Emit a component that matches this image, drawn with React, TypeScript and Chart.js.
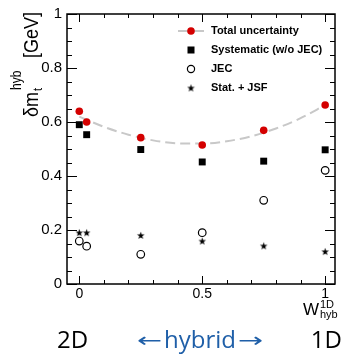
import React, { useEffect, useRef } from "react";
import { Chart, registerables } from "chart.js";

Chart.register(...registerables);

const W_HYB = [0, 0.03, 0.25, 0.5, 0.75, 1];
const TOTAL = [0.64, 0.6, 0.542, 0.515, 0.569, 0.663];
const SYST = [0.59, 0.553, 0.498, 0.452, 0.455, 0.497];
const JEC = [0.159, 0.14, 0.11, 0.19, 0.31, 0.421];
const STAT = [0.19, 0.19, 0.18, 0.159, 0.141, 0.12];
const FIT_X = [0, 0.1, 0.2, 0.3, 0.4, 0.5, 0.6, 0.7, 0.8, 0.9, 1];
const FIT_Y = [0.62, 0.582, 0.553, 0.532, 0.521, 0.52, 0.529, 0.547, 0.576, 0.614, 0.663];
const Y_MAJOR = [0, 0.2, 0.4, 0.6, 0.8, 1];
const Y_MINOR = [0.05, 0.1, 0.15, 0.25, 0.3, 0.35, 0.45, 0.5, 0.55, 0.65, 0.7, 0.75, 0.85, 0.9, 0.95];
const X_MAJOR = [0, 0.5, 1];
const X_MINOR = [0.1, 0.2, 0.3, 0.4, 0.6, 0.7, 0.8, 0.9];
const LEGEND = ["Total uncertainty", "Systematic (w/o JEC)", "JEC", "Stat. + JSF"];

const RED = "#d40000";
const BLUE = "#1f5fa8";
const FONT = "'Liberation Sans', Arial, sans-serif";
const BFONT = "'Open Sans', 'DejaVu Sans', sans-serif";

function makeStar(): HTMLCanvasElement {
  const c = document.createElement("canvas");
  c.width = 9;
  c.height = 9;
  const g = c.getContext("2d")!;
  g.fillStyle = "#000";
  g.beginPath();
  for (let i = 0; i < 10; i++) {
    const r = i % 2 === 0 ? 4 : 1.6;
    const a = -Math.PI / 2 + (i * Math.PI) / 5;
    const px = 4.5 + r * Math.cos(a);
    const py = 4.8 + r * Math.sin(a);
    if (i === 0) g.moveTo(px, py);
    else g.lineTo(px, py);
  }
  g.closePath();
  g.fill();
  return c;
}

const pts = (ys: number[]) => W_HYB.map((x, i) => ({ x, y: ys[i] }));

export default function App() {
  const ref = useRef<HTMLCanvasElement | null>(null);
  useEffect(() => {
    document.body.style.margin = "0";
    const star = makeStar();
    const deco = {
      id: "deco",
      afterDraw(chart: any) {
        const ctx = chart.ctx as CanvasRenderingContext2D;
        const a = chart.chartArea;
        const xs = chart.scales.x;
        const ys = chart.scales.y;
        ctx.save();
        ctx.strokeStyle = "#000";
        ctx.lineWidth = 1.5;
        ctx.strokeRect(a.left, a.top, a.right - a.left, a.bottom - a.top);
        ctx.lineWidth = 1;
        ctx.beginPath();
        const yt = (vals: number[], len: number) => {
          vals.forEach((v) => {
            const p = Math.round(ys.getPixelForValue(v)) + 0.5;
            ctx.moveTo(a.left, p);
            ctx.lineTo(a.left + len, p);
            ctx.moveTo(a.right, p);
            ctx.lineTo(a.right - len, p);
          });
        };
        const xt = (vals: number[], len: number) => {
          vals.forEach((v) => {
            const p = Math.round(xs.getPixelForValue(v)) + 0.5;
            ctx.moveTo(p, a.bottom);
            ctx.lineTo(p, a.bottom - len);
            ctx.moveTo(p, a.top);
            ctx.lineTo(p, a.top + len);
          });
        };
        yt(Y_MAJOR, 10);
        yt(Y_MINOR, 5);
        xt(X_MAJOR, 8);
        xt(X_MINOR, 4);
        ctx.stroke();

        // legend
        const lx = 191;
        const tx = 211;
        const rows = [31, 50, 69, 88];
        ctx.strokeStyle = "#c8c8c8";
        ctx.lineWidth = 2;
        ctx.beginPath();
        ctx.moveTo(178, rows[0]);
        ctx.lineTo(204, rows[0]);
        ctx.stroke();
        ctx.fillStyle = RED;
        ctx.beginPath();
        ctx.arc(lx, rows[0], 3.8, 0, Math.PI * 2);
        ctx.fill();
        ctx.fillStyle = "#000";
        ctx.fillRect(lx - 3.5, rows[1] - 3.5, 7, 7);
        ctx.strokeStyle = "#000";
        ctx.lineWidth = 1.2;
        ctx.beginPath();
        ctx.arc(lx, rows[2], 3.6, 0, Math.PI * 2);
        ctx.stroke();
        ctx.drawImage(star, lx - 4.5, rows[3] - 4.5);
        ctx.font = `bold 11px ${FONT}`;
        ctx.textBaseline = "middle";
        ctx.textAlign = "left";
        LEGEND.forEach((t, i) => ctx.fillText(t, tx, rows[i]));

        // y title
        ctx.save();
        ctx.translate(38, 117);
        ctx.rotate(-Math.PI / 2);
        ctx.scale(1, 1.15);
        ctx.textBaseline = "alphabetic";
        ctx.font = `18px ${FONT}`;
        ctx.fillText("δm", 0, 0);
        const w1 = ctx.measureText("δm").width;
        ctx.font = `12px ${FONT}`;
        ctx.fillText("hyb", w1 + 2, -15);
        ctx.font = `11px ${FONT}`;
        ctx.fillText("t", w1 + 1, 3.5);
        ctx.font = `18px ${FONT}`;
        ctx.fillText("[GeV]", 59, 0);
        ctx.restore();

        // x title
        ctx.textBaseline = "alphabetic";
        ctx.textAlign = "left";
        ctx.font = `17px ${FONT}`;
        ctx.fillText("W", 303, 315);
        ctx.font = `11px ${FONT}`;
        ctx.fillText("1D", 320, 308);
        ctx.fillText("hyb", 320, 318);

        // bottom labels
        ctx.font = `24px ${BFONT}`;
        ctx.fillStyle = "#000";
        ctx.textAlign = "left";
        ctx.fillText("2D", 57, 348);
        ctx.textAlign = "right";
        ctx.fillText("1D", 342, 348);
        ctx.fillStyle = BLUE;
        ctx.textAlign = "center";
        ctx.fillText("hybrid", 200, 348);
        ctx.font = `20px 'DejaVu Sans', sans-serif`;
        ctx.textBaseline = "middle";
        ctx.save();
        ctx.translate(149.5, 342);
        ctx.scale(1.5, 1);
        ctx.fillText("\u2190", 0, 0);
        ctx.restore();
        ctx.save();
        ctx.translate(250.5, 342);
        ctx.scale(1.5, 1);
        ctx.fillText("\u2192", 0, 0);
        ctx.restore();
        ctx.restore();
      },
    };

    const chart = new Chart(ref.current!, {
      type: "scatter",
      data: {
        datasets: [
          {
            label: "fit",
            data: FIT_X.map((x, i) => ({ x, y: FIT_Y[i] })),
            showLine: true,
            borderColor: "#c8c8c8",
            borderWidth: 2,
            borderDash: [10, 5],
            pointRadius: 0,
            cubicInterpolationMode: "monotone",
            order: 10,
          } as any,
          {
            label: LEGEND[0],
            data: pts(TOTAL),
            pointRadius: 3.8,
            backgroundColor: RED,
            borderColor: RED,
            borderWidth: 0,
            order: 1,
          },
          {
            label: LEGEND[1],
            data: pts(SYST),
            pointStyle: "rect",
            pointRadius: 4.9,
            backgroundColor: "#000",
            borderColor: "#000",
            borderWidth: 0,
            order: 2,
          },
          {
            label: LEGEND[2],
            data: pts(JEC),
            pointRadius: 3.8,
            backgroundColor: "rgba(0,0,0,0)",
            borderColor: "#000",
            borderWidth: 1.2,
            order: 3,
          },
          {
            label: LEGEND[3],
            data: pts(STAT),
            pointStyle: star,
            pointRadius: 4.5,
            order: 4,
          },
        ],
      },
      options: {
        animation: false,
        responsive: false,
        events: [],
        layout: { padding: { left: 0, right: 8, top: 14, bottom: 0 } },
        plugins: { legend: { display: false }, tooltip: { enabled: false } },
        scales: {
          x: {
            type: "linear",
            min: -0.05,
            max: 1.04,
            grid: { display: false, drawTicks: false },
            border: { display: false },
            afterBuildTicks: (s: any) => {
              s.ticks = X_MAJOR.map((v) => ({ value: v }));
            },
            afterFit: (s: any) => {
              s.height = 70;
            },
            ticks: {
              padding: 2,
              color: "#000",
              font: { family: FONT, size: 14 },
              callback: (v: any) => String(v),
            },
          },
          y: {
            type: "linear",
            min: 0,
            max: 1,
            grid: { display: false, drawTicks: false },
            border: { display: false },
            afterBuildTicks: (s: any) => {
              s.ticks = Y_MAJOR.map((v) => ({ value: v }));
            },
            afterFit: (s: any) => {
              s.width = 67;
            },
            ticks: {
              padding: 5,
              color: "#000",
              font: { family: FONT, size: 15 },
              callback: (v: any) => String(v),
            },
          },
        },
      },
      plugins: [deco],
    });
    return () => chart.destroy();
  }, []);
  return <canvas ref={ref} width={343} height={354} style={{ display: "block" }} />;
}
